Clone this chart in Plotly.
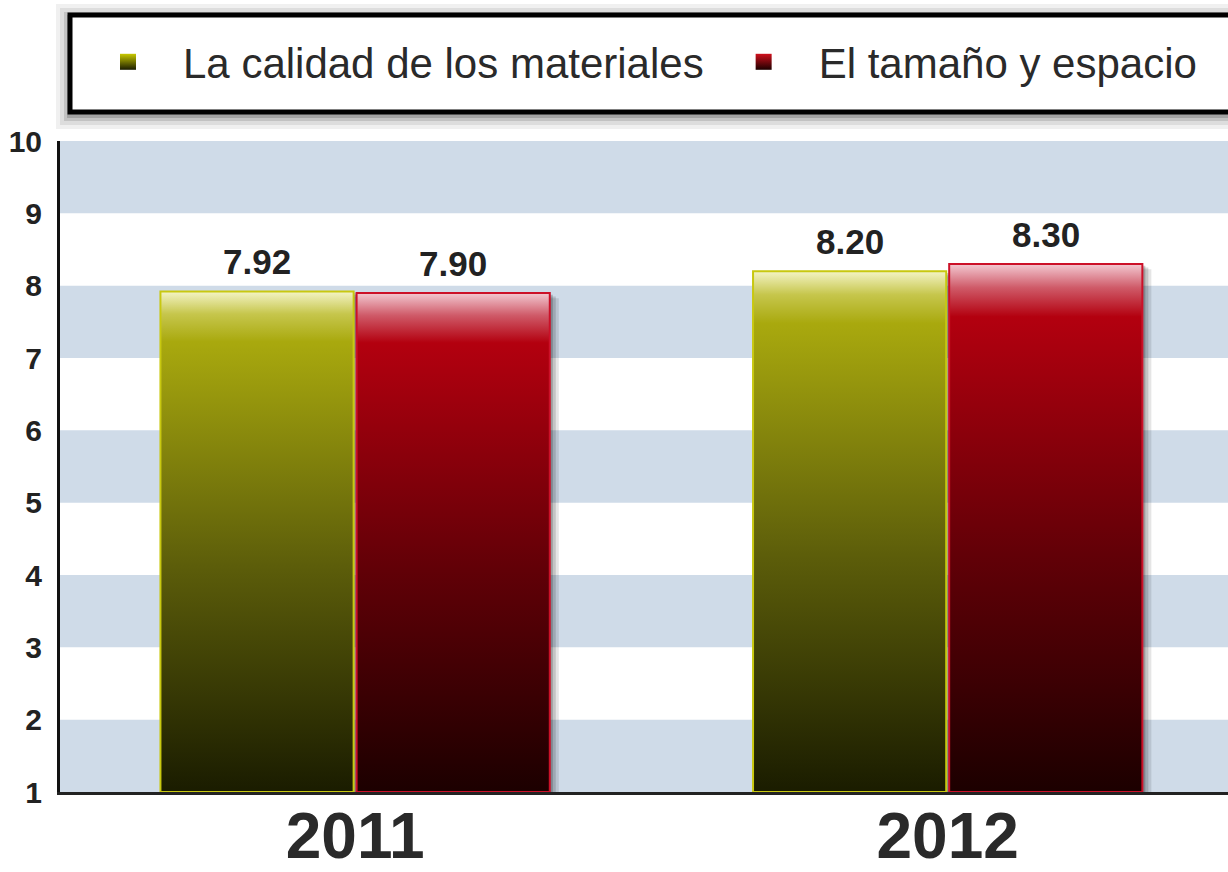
import plotly.graph_objects as go

# datos
years = ["2011", "2012"]
series_names = ["La calidad de los materiales", "El tamaño y espacio"]
calidad = [7.92, 8.20]
tamano = [7.90, 8.30]
y_ticks = [1, 2, 3, 4, 5, 6, 7, 8, 9, 10]

FONT = "Liberation Sans, Arial, sans-serif"
W, H = 1228, 872
M_L, M_R, M_T, M_B = 60, 0, 141, 80
X_RANGE = [-0.498, 1.473]
Y_RANGE = [1, 10]
BASE = 1
BAR_W = 0.326
OFFSETS = [-0.1655, 0.1655]

# gradient bottom -> top
scales = [
    [[0, "#1a1c00"], [0.45, "#5c5d0a"], [0.9, "#a9a90e"], [0.955, "#c6c64c"], [1, "#f4f4c6"]],
    [[0, "#1c0000"], [0.45, "#620007"], [0.9, "#b3000f"], [0.955, "#cf5a68"], [1, "#f3c9d2"]],
]
edge_colors = ["#c8c810", "#cc1028"]
legend_top = ["#c9c900", "#d0101c"]
legend_bottom = ["#1a1c00", "#1c0000"]

pw = W - M_L - M_R
ph = H - M_T - M_B
px_x = (X_RANGE[1] - X_RANGE[0]) / pw   # data units per pixel
px_y = (Y_RANGE[1] - Y_RANGE[0]) / ph


def paper_x(px):
    return (px - M_L) / pw


def paper_y(py):
    return (H - M_B - py) / ph


fig = go.Figure()

all_values = [calidad, tamano]

# sombras de las barras
for s, vals in enumerate(all_values):
    for i, v in enumerate(vals):
        x0 = i + OFFSETS[s] - BAR_W / 2
        x1 = x0 + BAR_W
        for k, alpha in [(9, 0.10), (6, 0.14), (3, 0.2)]:
            dx, dy = k * px_x, k * 0.6 * px_y
            fig.add_trace(go.Scatter(
                x=[x0 + dx, x1 + dx, x1 + dx, x0 + dx, x0 + dx],
                y=[BASE - dy, BASE - dy, v - dy, v - dy, BASE - dy],
                mode="lines", fill="toself", line=dict(width=0),
                fillcolor=f"rgba(0,0,0,{alpha})",
                hoverinfo="skip", showlegend=False,
            ))

# barras con degradado
for s, vals in enumerate(all_values):
    for i, v in enumerate(vals):
        x0 = i + OFFSETS[s] - BAR_W / 2
        x1 = x0 + BAR_W
        fig.add_trace(go.Scatter(
            x=[x0, x1, x1, x0, x0],
            y=[BASE, BASE, v, v, BASE],
            mode="lines", fill="toself",
            line=dict(color=edge_colors[s], width=2),
            fillgradient=dict(type="vertical", colorscale=scales[s]),
            name=series_names[s], showlegend=False,
            hovertemplate=f"{series_names[s]}<br>{years[i]}: {v:.2f}<extra></extra>",
        ))

# leyenda
for s in range(2):
    fig.add_trace(go.Scatter(
        x=[None], y=[None], mode="markers", name=series_names[s],
        marker=dict(symbol="square", size=16, color=legend_top[s],
                    gradient=dict(type="vertical", color=legend_bottom[s]),
                    line=dict(width=0)),
    ))

# etiquetas de valor
annotations = []
for s, vals in enumerate(all_values):
    for i, v in enumerate(vals):
        annotations.append(dict(
            x=i + OFFSETS[s], y=v, xref="x", yref="y",
            text=f"{v:.2f}", showarrow=False, yanchor="bottom", yshift=8,
            font=dict(family=FONT, size=35, color="#222222", weight="bold"),
        ))

shapes = []
# bandas horizontales
for lo in [1, 3, 5, 7, 9]:
    shapes.append(dict(type="rect", xref="paper", yref="y", x0=0, x1=1, y0=lo, y1=lo + 1,
                       fillcolor="#cfdbe8", line=dict(width=0), layer="below"))

# caja de la leyenda con sombra
for pad, alpha in [(14, 0.06), (10, 0.08), (6, 0.12), (3, 0.16)]:
    shapes.append(dict(type="rect", xref="paper", yref="paper",
                       x0=paper_x(70 - pad), x1=paper_x(1260),
                       y0=paper_y(112 + pad + 3), y1=paper_y(15 - pad + 3),
                       fillcolor=f"rgba(0,0,0,{alpha})", line=dict(width=0)))
shapes.append(dict(type="rect", xref="paper", yref="paper",
                   x0=paper_x(70), x1=paper_x(1260), y0=paper_y(112), y1=paper_y(15),
                   fillcolor="white", line=dict(color="black", width=5)))

fig.update_layout(
    width=W, height=H,
    margin=dict(l=M_L, r=M_R, t=M_T, b=M_B),
    paper_bgcolor="white", plot_bgcolor="white",
    font=dict(family=FONT, color="#222222"),
    shapes=shapes,
    annotations=annotations,
    showlegend=True,
    legend=dict(
        orientation="h", x=paper_x(73), xanchor="left", y=paper_y(62), yanchor="middle",
        bgcolor="rgba(0,0,0,0)", borderwidth=0, itemwidth=100,
        font=dict(family=FONT, size=42, color="#2a2a2a"),
        itemclick=False, itemdoubleclick=False,
    ),
    xaxis=dict(
        range=X_RANGE, tickvals=list(range(len(years))), ticktext=years,
        tickfont=dict(family=FONT, size=64, color="#2a2a2a", weight="bold"),
        showline=True, linecolor="#222222", linewidth=3, ticks="",
        showgrid=False, zeroline=False, ticklabelstandoff=-14, automargin=False,
    ),
    yaxis=dict(
        range=Y_RANGE, tickvals=y_ticks,
        tickfont=dict(family=FONT, size=30, color="#222222", weight="bold"),
        showline=True, linecolor="#111111", linewidth=3, ticks="",
        showgrid=False, zeroline=False, ticklabelstandoff=9, automargin=False,
    ),
)

fig.write_html("out.html", config={"displayModeBar": False},
               post_script="document.body.style.margin='0';")
